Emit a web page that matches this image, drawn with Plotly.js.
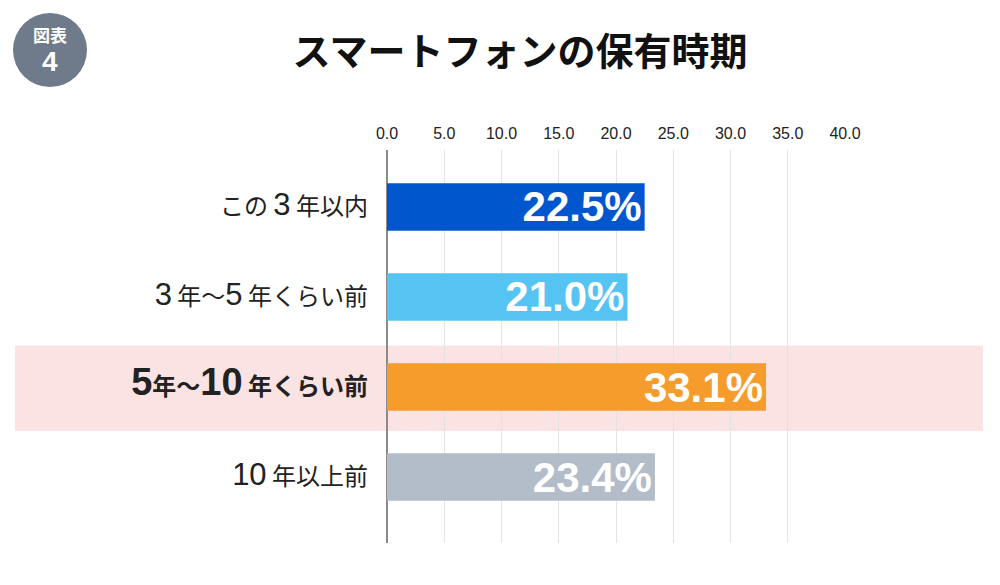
<!DOCTYPE html>
<html><head><meta charset="utf-8">
<script src="https://cdn.plot.ly/plotly-3.0.1.min.js"></script>
<style>html,body{margin:0;padding:0;background:#fff;}#chart{width:1000px;height:585px;}</style>
</head><body><div id="chart"></div>
<script>
const categories = ["この３年以内", "３年〜５年くらい前", "5年〜10年くらい前", "10年以上前"];
const D = "font-family:Liberation Sans,Arial,sans-serif;font-size:";
const tickLabels = [
  "この <span style=\"" + D + "31px\">3</span> 年以内",
  "<span style=\"" + D + "31px\">3</span> 年〜<span style=\"" + D + "31px\">5</span> 年くらい前",
  "<b><span style=\"" + D + "38px\">5</span>年〜<span style=\"" + D + "38px\">10</span> 年くらい前</b>",
  "<span style=\"" + D + "31px\">10</span> 年以上前"
];
const values = [22.5, 21.0, 33.1, 23.4];
const barColors = ["#0056cc", "#56c4f2", "#f59c2c", "#b3bcc9"];
const xTicks = [0, 5, 10, 15, 20, 25, 30, 35, 40];
const highlightIndex = 2;

const trace = {
  type: "bar",
  orientation: "h",
  y: categories,
  x: values,
  marker: {color: barColors, line: {width: 0}},
  text: values.map(v => v.toFixed(1) + "%"),
  textposition: "inside",
  insidetextanchor: "end",
  constraintext: "none",
  textfont: {family: "Liberation Sans, Arial, sans-serif", size: 42, color: "#ffffff", weight: "bold"},
  hoverinfo: "none",
  cliponaxis: false
};

const layout = {
  width: 1000, height: 585,
  margin: {l: 387, r: 155, t: 150, b: 42, pad: 0},
  paper_bgcolor: "#ffffff", plot_bgcolor: "rgba(0,0,0,0)",
  bargap: 0.47,
  showlegend: false,
  title: {text: "<b>スマートフォンの保有時期</b>", x: 0.52, xanchor: "center", y: 0.912, yanchor: "middle",
          font: {family: "Noto Sans CJK JP", size: 38, color: "#111111"}},
  xaxis: {
    side: "top", range: [0, 40], tickvals: xTicks, ticktext: xTicks.map(v => v.toFixed(1)),
    showgrid: true, gridcolor: "#e3e3e3", gridwidth: 1,
    zeroline: true, zerolinecolor: "#8a8a8a", zerolinewidth: 1.5,
    showline: false, ticks: "", ticklabelstandoff: 7,
    tickfont: {family: "Liberation Sans, Arial, sans-serif", size: 16, color: "#222222"},
    fixedrange: true
  },
  yaxis: {
    categoryorder: "array", categoryarray: categories,
    tickvals: categories, ticktext: tickLabels,
    range: [3.733, -0.633],
    showgrid: false, zeroline: false, showline: false, ticks: "",
    ticklabelstandoff: 18,
    tickfont: {family: "Noto Sans CJK JP", size: 24, color: "#222222"},
    fixedrange: true
  },
  shapes: [
    {type: "rect", xref: "paper", yref: "y", layer: "below",
     x0: -372/458, x1: 596/458, y0: highlightIndex - 0.46, y1: highlightIndex + 0.49,
     fillcolor: "#fbe3e4", line: {width: 0}},
    {type: "circle", xref: "paper", yref: "paper", layer: "above",
     x0: -374/458, x1: -300/458, y0: (543-87)/393, y1: (543-13)/393,
     fillcolor: "#6f7b8b", line: {width: 0}}
  ],
  annotations: [
    {xref: "paper", yref: "paper", x: -337/458, y: (543-34)/393, text: "<b>図表</b>", showarrow: false,
     font: {family: "Noto Sans CJK JP", size: 17, color: "#ffffff"}, xanchor: "center", yanchor: "middle"},
    {xref: "paper", yref: "paper", x: -337/458, y: (543-61)/393, text: "<b>4</b>", showarrow: false,
     font: {family: "Liberation Sans, Arial, sans-serif", size: 28, color: "#ffffff"}, xanchor: "center", yanchor: "middle"}
  ]
};

Plotly.newPlot("chart", [trace], layout, {displayModeBar: false, staticPlot: true});
</script>
</body></html>
